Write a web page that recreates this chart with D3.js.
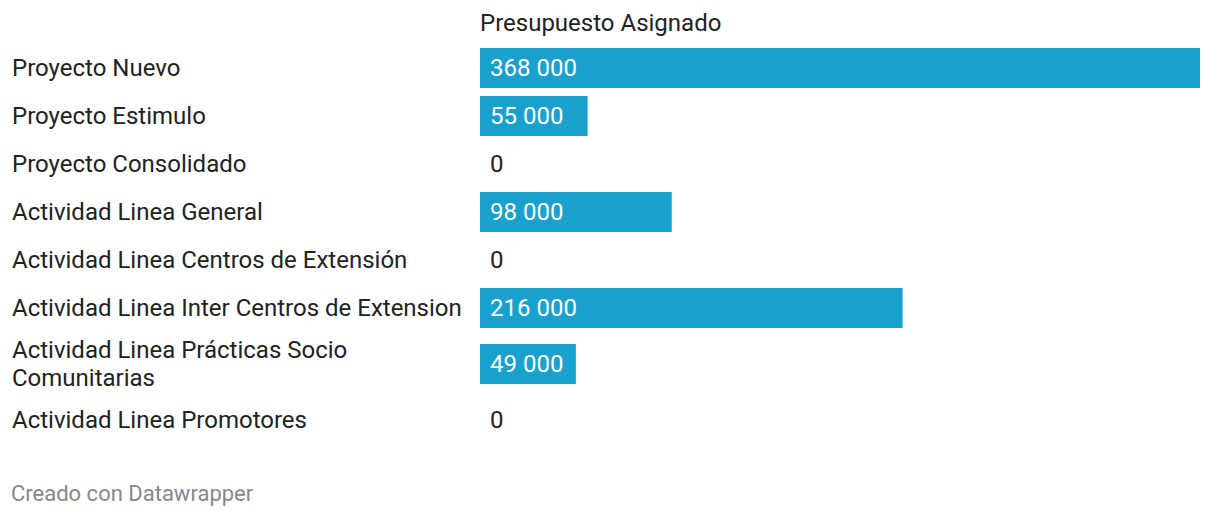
<!DOCTYPE html>
<html><head><meta charset="utf-8">
<script src="https://cdn.jsdelivr.net/npm/d3@7"></script>
<style>
body{margin:0;background:#fff;}
svg{display:block;font-family:Roboto, sans-serif;}
</style></head>
<body>
<svg id="chart" width="1220" height="518"></svg>
<script>
const categories = ["Proyecto Nuevo","Proyecto Estimulo","Proyecto Consolidado","Actividad Linea General","Actividad Linea Centros de Extensión","Actividad Linea Inter Centros de Extension","Actividad Linea Prácticas Socio Comunitarias","Actividad Linea Promotores"];
const values = [368000,55000,0,98000,0,216000,49000,0];
const seriesTitle = "Presupuesto Asignado";
const footer = "Creado con Datawrapper";

const svg = d3.select("#chart");
const fs = 24, labelX = 12, labelMax = 460, barX0 = 480, barX1 = 1200;
const barH = 40, gap = 8, lineH = 28;
const x = d3.scaleLinear().domain([0, d3.max(values)]).range([barX0, barX1]);
const fmt = v => d3.format(",")(v).replace(/,/g, " ");

svg.append("text").attr("x", barX0).attr("y", 31).attr("font-size", fs).attr("fill", "#222").text(seriesTitle);

function wrap(str){
  const t = svg.append("text").attr("font-size", fs);
  const words = str.split(" "); const lines = []; let cur = "";
  for (const w of words){
    const test = cur ? cur + " " + w : w;
    t.text(test);
    if (t.node().getComputedTextLength() > labelMax && cur){ lines.push(cur); cur = w; } else cur = test;
  }
  lines.push(cur); t.remove(); return lines;
}
let y = 48;
const rows = categories.map((c,i)=>{
  const lines = wrap(c);
  const h = Math.max(barH, lines.length * lineH);
  const r = {c, v: values[i], lines, top: y, h};
  y += h + gap; return r;
});

const g = svg.append("g");
rows.forEach(r=>{
  const cy = r.top + r.h/2;
  const t = g.append("text").attr("x", labelX).attr("font-size", fs).attr("fill", "#222");
  r.lines.forEach((l,j)=>{
    t.append("tspan").attr("x", labelX).attr("y", cy + (j - (r.lines.length-1)/2)*lineH).attr("dy", "0.35em").text(l);
  });
  if (r.v > 0){
    g.append("rect").attr("x", x(0)).attr("y", cy - barH/2).attr("width", x(r.v) - x(0)).attr("height", barH).attr("fill", "#18a1cd");
  }
  g.append("text").attr("x", x(0) + 10).attr("y", cy).attr("dy", "0.35em").attr("font-size", fs)
    .attr("fill", r.v > 0 ? "#fff" : "#222").text(fmt(r.v));
});

svg.append("text").attr("x", 11).attr("y", 501).attr("font-size", 22).attr("fill", "#888").text(footer);
</script>
</body></html>
